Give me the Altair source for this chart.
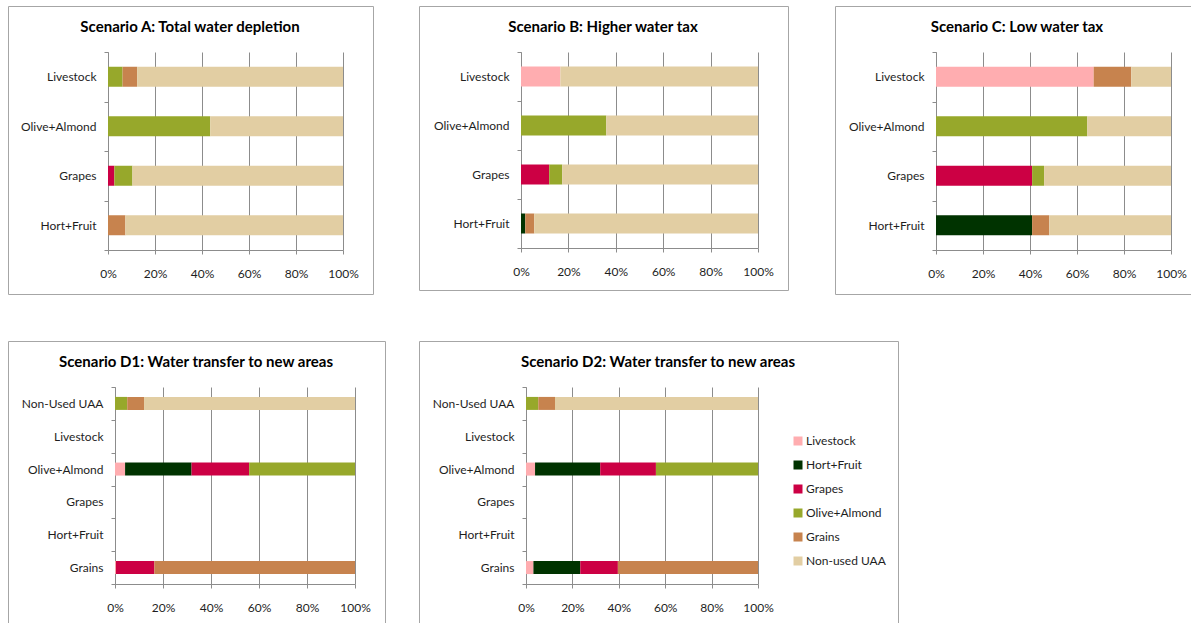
import altair as alt
import pandas as pd

# ---------------- data ----------------
SEGMENTS = ["Livestock", "Hort+Fruit", "Grapes", "Olive+Almond", "Grains", "Non-used UAA"]
COLORS = ["#FFADB0", "#003300", "#CC0044", "#97A82B", "#C7834E", "#E2CEA3"]

CATS_ABC = ["Livestock", "Olive+Almond", "Grapes", "Hort+Fruit"]
CATS_D = ["Non-Used UAA", "Livestock", "Olive+Almond", "Grapes", "Hort+Fruit", "Grains"]

TICKS = [0, 20, 40, 60, 80, 100]

# shares (%) in SEGMENTS order
A_LIVESTOCK = [0, 0, 0, 6.2, 6.2, 87.6]
A_OLIVE = [0, 0, 0, 43.5, 0, 56.5]
A_GRAPES = [0, 0, 2.7, 7.7, 0, 89.6]
A_HORT = [0, 0, 0, 0, 7.4, 92.6]

B_LIVESTOCK = [16.6, 0, 0, 0, 0, 83.4]
B_OLIVE = [0, 0, 0, 36.0, 0, 64.0]
B_GRAPES = [0, 0, 11.9, 5.5, 0, 82.6]
B_HORT = [0, 1.8, 0, 0, 3.8, 94.4]

C_LIVESTOCK = [67.1, 0, 0, 0, 16.0, 16.9]
C_OLIVE = [0, 0, 0, 64.4, 0, 35.6]
C_GRAPES = [0, 0, 40.9, 5.1, 0, 54.0]
C_HORT = [0, 40.9, 0, 0, 7.3, 51.8]

D1_NONUSED = [0, 0, 0, 5.1, 7.0, 87.9]
D1_OLIVE = [4.2, 27.7, 24.0, 44.1, 0, 0]
D1_GRAINS = [0.4, 0, 16.0, 0, 83.6, 0]

D2_NONUSED = [0, 0, 0, 5.3, 7.2, 87.5]
D2_OLIVE = [3.9, 28.1, 24.0, 44.0, 0, 0]
D2_GRAINS = [3.2, 20.2, 16.2, 0, 60.4, 0]

TITLE_A = "Scenario A: Total water depletion"
TITLE_B = "Scenario B: Higher water tax"
TITLE_C = "Scenario C: Low water tax"
TITLE_D1 = "Scenario D1: Water transfer to new areas"
TITLE_D2 = "Scenario D2: Water transfer to new areas"

# ---------------- styling ----------------
FONT = "Lato"
GRID = "#8C8C8C"
FRAME = "#A6A6A6"
TEXT = "#1E1E1E"

LEGEND = alt.Legend(
    title=None, orient="none", legendX=684, legendY=383, direction="vertical",
    symbolType="square", symbolSize=81, symbolStrokeWidth=0, labelFontSize=12,
    labelFont=FONT, labelColor=TEXT, rowPadding=12, padding=0, labelOffset=2,
)


def table(cat_rows):
    rows = []
    for cat, vals in cat_rows:
        for i, (seg, v) in enumerate(zip(SEGMENTS, vals)):
            rows.append({"category": cat, "segment": seg, "value": v, "order": i})
    return pd.DataFrame(rows)


def hline(x1, x2, y):
    return alt.Chart(alt.Data(values=[{}])).mark_rule(color=FRAME, strokeWidth=1).encode(
        x=alt.value(x1), x2=alt.value(x2), y=alt.value(y))


def vline(x, y1, y2):
    return alt.Chart(alt.Data(values=[{}])).mark_rule(color=FRAME, strokeWidth=1).encode(
        x=alt.value(x), y=alt.value(y1), y2=alt.value(y2))


def panel(df, cats, title, width, height, bar_size, title_x, frame, x_range=None,
          y_offset=0, x_pad=14):
    xs = dict(domain=[0, 100], nice=False, zero=True)
    if x_range is not None:
        xs["range"] = x_range
    bars = alt.Chart(df).mark_bar(size=bar_size).encode(
        x=alt.X("value:Q", stack="zero", scale=alt.Scale(**xs),
                axis=alt.Axis(values=TICKS, labelExpr="datum.value + '%'", title=None,
                              grid=True, gridColor=GRID, labelFlush=False, labelPadding=x_pad,
                              tickSize=4, labelFontSize=12, labelFont=FONT, labelColor=TEXT)),
        y=alt.Y("category:N", sort=cats,
                scale=alt.Scale(domain=cats, paddingInner=0, paddingOuter=0),
                axis=alt.Axis(title=None, tickBand="extent", tickSize=4, labelPadding=8,
                              offset=y_offset, grid=False, labelFontSize=12,
                              labelFont=FONT, labelColor=TEXT)),
        color=alt.Color("segment:N", scale=alt.Scale(domain=SEGMENTS, range=COLORS),
                        legend=LEGEND),
        order=alt.Order("order:Q"),
        tooltip=["category:N", "segment:N", "value:Q"],
    )
    ttl = alt.Chart(alt.Data(values=[{}])).mark_text(
        font=FONT, fontSize=15, fontWeight="bold", color="#000000",
        align="center", baseline="middle").encode(
        x=alt.value(title_x), y=alt.value(-25), text=alt.value(title))
    layers = []
    (l, r, t, b, sides) = frame
    if "t" in sides:
        layers.append(hline(l, r, t))
    if "b" in sides:
        layers.append(hline(l, r, b))
    if "l" in sides:
        layers.append(vline(l, t, b))
    if "r" in sides:
        layers.append(vline(r, t, b))
    return alt.layer(*layers, ttl, bars).properties(width=width, height=height)


dfA = table([("Livestock", A_LIVESTOCK), ("Olive+Almond", A_OLIVE), ("Grapes", A_GRAPES), ("Hort+Fruit", A_HORT)])
dfB = table([("Livestock", B_LIVESTOCK), ("Olive+Almond", B_OLIVE), ("Grapes", B_GRAPES), ("Hort+Fruit", B_HORT)])
dfC = table([("Livestock", C_LIVESTOCK), ("Olive+Almond", C_OLIVE), ("Grapes", C_GRAPES), ("Hort+Fruit", C_HORT)])
dfD1 = table([("Non-Used UAA", D1_NONUSED), ("Olive+Almond", D1_OLIVE), ("Grains", D1_GRAINS)])
dfD2 = table([("Non-Used UAA", D2_NONUSED), ("Olive+Almond", D2_OLIVE), ("Grains", D2_GRAINS)])

pA = panel(dfA, CATS_ABC, TITLE_A, 235, 198, 20, 82, (-99.5, 265.5, -45.5, 242.5, "tblr"))
pB = panel(dfB, CATS_ABC, TITLE_B, 237, 196, 20, 82, (-101.5, 267.5, -45.5, 238.5, "tblr"))
pC = panel(dfC, CATS_ABC, TITLE_C, 235, 198, 20, 81, (-100.5, 255, -45.5, 242.5, "tbl"))
pD1 = panel(dfD1, CATS_D, TITLE_D1, 235, 197, 13, 88, (-99.5, 277.5, -45.5, 236, "tlr"),
            x_range=[7, 247], y_offset=-7)
pD2 = panel(dfD2, CATS_D, TITLE_D2, 237, 197, 13, 137, (-101.5, 377.5, -45.5, 236, "tlr"),
            x_range=[5, 237], y_offset=-5)

chart = alt.concat(
    pA, pB, pC, pD1, pD2, columns=3,
    spacing={"row": 137, "column": 178}, bounds="flush", align="each",
).properties(
    padding={"left": 8, "top": 6, "right": 0, "bottom": 0},
    background="#FFFFFF",
).configure_view(strokeWidth=0, stroke="transparent").configure_axis(
    labelFont=FONT, labelFontSize=12, labelColor=TEXT,
    domainColor=GRID, tickColor=GRID, gridColor=GRID,
)

chart.save("out.html", embed_options={"renderer": "svg", "actions": False})
